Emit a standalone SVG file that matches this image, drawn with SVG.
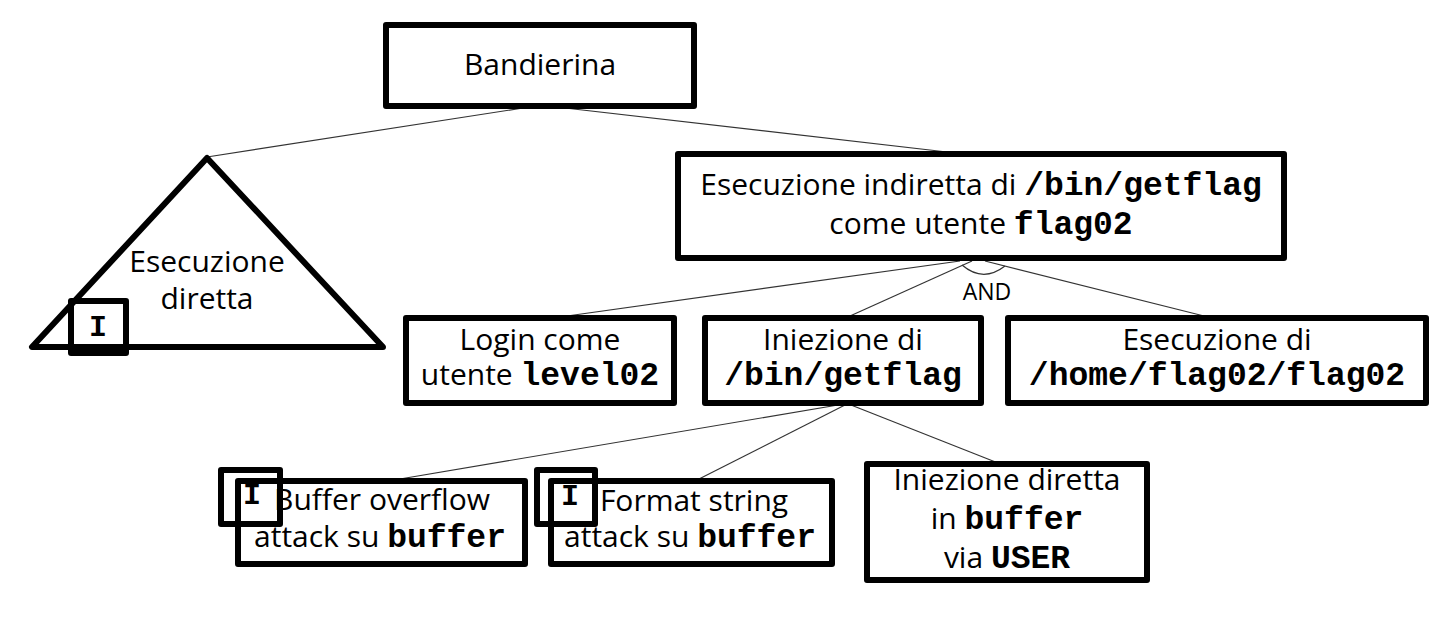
<svg xmlns="http://www.w3.org/2000/svg" width="1434" height="634" viewBox="0 0 1434 634">
<style>
.box{fill:#fff;stroke:#000;stroke-width:6;stroke-linejoin:round}
.ibox{fill:none;stroke:#000;stroke-width:6;stroke-linejoin:round}
.edge{fill:none;stroke:#333;stroke-width:1.2}
.t{font-family:"Open Sans","Noto Sans",sans-serif;font-size:30px;fill:#000;text-anchor:middle}
.m{font-family:"Liberation Mono","Courier New",monospace;font-weight:bold;font-size:33px}
.i{font-family:"Liberation Mono","Courier New",monospace;font-weight:bold;font-size:30px;fill:#000;text-anchor:middle}
.and{font-family:"Open Sans","Noto Sans",sans-serif;font-size:23px;fill:#000;text-anchor:middle}
</style>
<rect width="1434" height="634" fill="#fff"/>
<g id="connectors">
<line class="edge" x1="523" y1="108" x2="207" y2="157"/>
<line class="edge" x1="565" y1="108" x2="947" y2="152"/>
<line class="edge" x1="960" y1="261" x2="567" y2="316"/>
<line class="edge" x1="972" y1="261" x2="850" y2="316"/>
<line class="edge" x1="985" y1="261" x2="1204" y2="316"/>
<path class="edge" d="M962,265 Q983,283 1005,266"/>
<line class="edge" x1="838" y1="405" x2="400" y2="479"/>
<line class="edge" x1="845" y1="405" x2="699" y2="479"/>
<line class="edge" x1="851" y1="405" x2="998" y2="463"/>
</g>
<g id="bandierina">
<rect class="box" x="386" y="25" width="308" height="81"/>
<text class="t" x="540" y="75">Bandierina</text>
</g>
<g id="esecuzione-diretta">
<polygon class="box" points="207,158 32,347 383,347"/>
<text class="t" x="207" y="272">Esecuzione</text>
<text class="t" x="207" y="309">diretta</text>
<rect class="ibox" x="71" y="301" width="55" height="52"/>
<text class="i" x="98" y="336">I</text>
</g>
<g id="esecuzione-indiretta">
<rect class="box" x="678" y="154" width="606" height="104"/>
<text class="t" x="981" y="195">Esecuzione indiretta di <tspan class="m">/bin/getflag</tspan></text>
<text class="t" x="981" y="234">come utente <tspan class="m">flag02</tspan></text>
<text class="and" x="987" y="300">AND</text>
</g>
<g id="login">
<rect class="box" x="406" y="318" width="268" height="85"/>
<text class="t" x="540" y="350">Login come</text>
<text class="t" x="540" y="385">utente <tspan class="m">level02</tspan></text>
</g>
<g id="iniezione">
<rect class="box" x="705" y="318" width="276" height="85"/>
<text class="t" x="843" y="350">Iniezione di</text>
<text class="t" x="843" y="385"><tspan class="m">/bin/getflag</tspan></text>
</g>
<g id="esecuzione-flag02">
<rect class="box" x="1008" y="318" width="418" height="85"/>
<text class="t" x="1217" y="350">Esecuzione di</text>
<text class="t" x="1217" y="385"><tspan class="m">/home/flag02/flag02</tspan></text>
</g>
<g id="buffer-overflow">
<rect class="box" x="238" y="481" width="287" height="83"/>
<text class="t" x="382" y="510">Buffer overflow</text>
<text class="t" x="380" y="547">attack su <tspan class="m">buffer</tspan></text>
<rect class="ibox" x="221" y="470" width="59" height="54"/>
<text class="i" x="252" y="504">I</text>
</g>
<g id="format-string">
<rect class="box" x="551" y="481" width="281" height="83"/>
<text class="t" x="694" y="511">Format string</text>
<text class="t" x="690" y="547">attack su <tspan class="m">buffer</tspan></text>
<rect class="ibox" x="537" y="470" width="58" height="54"/>
<text class="i" x="570" y="505">I</text>
</g>
<g id="iniezione-diretta">
<rect class="box" x="867" y="464" width="280" height="116"/>
<text class="t" x="1007" y="490">Iniezione diretta</text>
<text class="t" x="1007" y="529">in <tspan class="m">buffer</tspan></text>
<text class="t" x="1007" y="568">via <tspan class="m">USER</tspan></text>
</g>
</svg>
